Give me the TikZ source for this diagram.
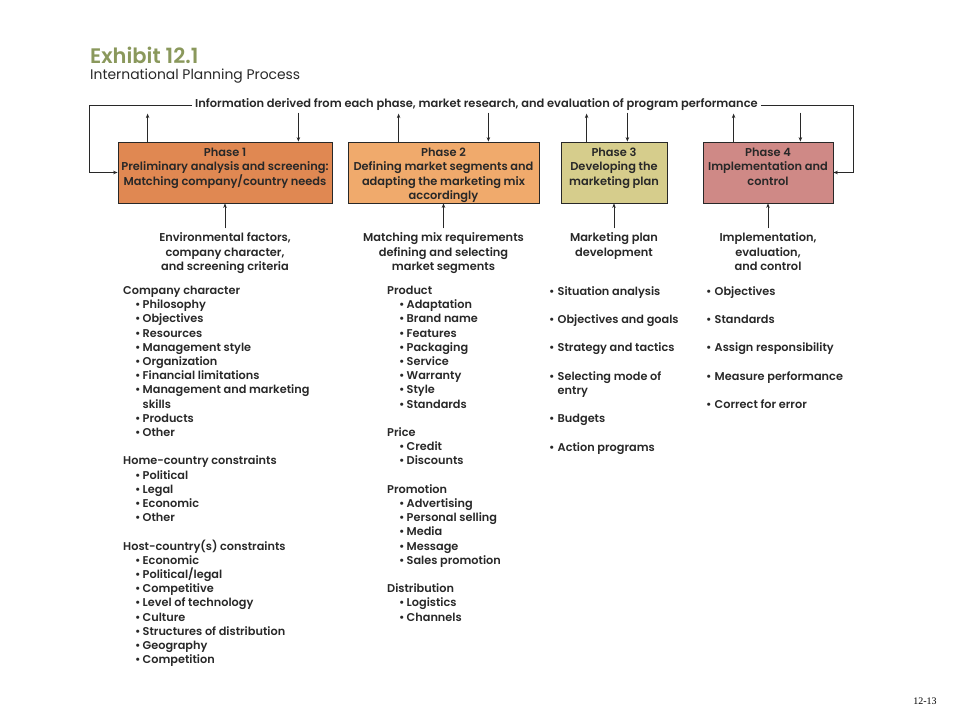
\documentclass[tikz,border=0pt]{standalone}
\usepackage{fontspec}
\setmainfont{Poppins}[BoldFont={Poppins SemiBold}]
\newfontfamily\pagefont{Liberation Serif}
\usetikzlibrary{positioning,arrows.meta}

\definecolor{exhgreen}{RGB}{138,152,92}
\definecolor{inkgray}{RGB}{40,40,40}
\definecolor{phaseone}{RGB}{224,136,82}
\definecolor{phasetwo}{RGB}{240,170,108}
\definecolor{phasethree}{RGB}{214,205,140}
\definecolor{phasefour}{RGB}{207,137,134}

\newcommand{\itm}{\hspace*{12pt}\makebox[7.5pt][l]{\textbullet}}
\newcommand{\bul}{\makebox[8.5pt][l]{\textbullet}}

\tikzset{
  phase/.style     = {draw=inkgray, line width=0.8pt, minimum height=61, inner sep=0},
  phasetext/.style = {align=center, text=inkgray, inner sep=0,
                      font=\bfseries\fontsize{11.4}{14.5}\selectfont},
  feed/.style      = {draw=inkgray, line width=0.7pt, -{Stealth[length=4.5pt,width=3.5pt]}},
  input/.style     = {align=center, text=inkgray, inner xsep=0, inner ysep=4pt,
                      font=\bfseries\fontsize{11.4}{14.5}\selectfont},
  list/.style      = {align=left, anchor=north west, text=inkgray, inner sep=0,
                      font=\bfseries\fontsize{11.3}{14.2}\selectfont}
}

\begin{document}
\begin{tikzpicture}[x=1pt, y=1pt]
    \useasboundingbox (0,0) rectangle (960,-720);

    % title
    \node [anchor=base west, inner sep=0, text=exhgreen,
           font=\bfseries\fontsize{21}{23}\selectfont]      (exh)  at (90,-63)  {Exhibit 12.1};
    \node [anchor=base west, inner sep=0, text=inkgray,
           font=\fontsize{13.9}{16}\selectfont]              (sub)  at (90,-79)  {International Planning Process};

    % phases
    \node [phase, fill=phaseone,   minimum width=214]       (p1)   at (225,-172.5)   {};
    \node [phase, fill=phasetwo,   minimum width=191]       (p2)   at (443.5,-172.5) {};
    \node [phase, fill=phasethree, minimum width=106]       (p3)   at (614,-172.5)   {};
    \node [phase, fill=phasefour,  minimum width=130]       (p4)   at (768,-172.5)   {};
    \node [phasetext, below=6pt of p1.north]                (p1t)  {Phase 1\\Preliminary analysis and screening:\\Matching company/country needs};
    \node [phasetext, below=6pt of p2.north]                (p2t)  {Phase 2\\Defining market segments and\\adapting the marketing mix\\accordingly};
    \node [phasetext, below=6pt of p3.north]                (p3t)  {Phase 3\\Developing the\\marketing plan};
    \node [phasetext, below=6pt of p4.north]                (p4t)  {Phase 4\\Implementation and\\control};

    % feedback line
    \node [inner xsep=3pt, inner ysep=0, text=inkgray,
           font=\bfseries\fontsize{11.45}{12}\selectfont]    (info) at (476.5,-105) {Information derived from each phase, market research, and evaluation of program performance};
    \coordinate (lt) at (89,-105);
    \coordinate (rt) at (853,-105);
    \draw [feed] (info.west) -- (lt) |- (p1.west);
    \draw [feed] (info.east) -- (rt) |- (p4.east);

    \draw [feed] ([xshift=30pt]p1.north west) -- ++(0,28);
    \draw [feed] ([xshift=-34pt,yshift=29pt]p1.north east) -- ([xshift=-34pt]p1.north east);
    \draw [feed] ([xshift=51pt]p2.north west) -- ++(0,28);
    \draw [feed] ([xshift=-51pt,yshift=29pt]p2.north east) -- ([xshift=-51pt]p2.north east);
    \draw [feed] ([xshift=26pt]p3.north west) -- ++(0,28);
    \draw [feed] ([xshift=-40pt,yshift=29pt]p3.north east) -- ([xshift=-40pt]p3.north east);
    \draw [feed] ([xshift=31pt]p4.north west) -- ++(0,28);
    \draw [feed] ([xshift=-33pt,yshift=29pt]p4.north east) -- ([xshift=-33pt]p4.north east);

    % inputs
    \node [input, below=25pt of p1]                         (in1)  {Environmental factors,\\company character,\\and screening criteria};
    \node [input, below=25pt of p2]                         (in2)  {Matching mix requirements\\defining and selecting\\market segments};
    \node [input, below=25pt of p3]                         (in3)  {Marketing plan\\development};
    \node [input, below=25pt of p4]                         (in4)  {Implementation,\\evaluation,\\and control};
    \draw [feed] (in1) -- (p1);
    \draw [feed] (in2) -- (p2);
    \draw [feed] (in3) -- (p3);
    \draw [feed] (in4) -- (p4);

    % lists
    \node [list] (l1) at (123,-286) {Company character\\
        \itm Philosophy\\ \itm Objectives\\ \itm Resources\\ \itm Management style\\
        \itm Organization\\ \itm Financial limitations\\ \itm Management and marketing\\
        \hspace*{19.5pt}skills\\ \itm Products\\ \itm Other\\[14.2pt]
        Home-country constraints\\
        \itm Political\\ \itm Legal\\ \itm Economic\\ \itm Other\\[14.2pt]
        Host-country(s) constraints\\
        \itm Economic\\ \itm Political/legal\\ \itm Competitive\\ \itm Level of technology\\
        \itm Culture\\ \itm Structures of distribution\\ \itm Geography\\ \itm Competition};
    \node [list] (l2) at (387,-286) {Product\\
        \itm Adaptation\\ \itm Brand name\\ \itm Features\\ \itm Packaging\\
        \itm Service\\ \itm Warranty\\ \itm Style\\ \itm Standards\\[14.2pt]
        Price\\
        \itm Credit\\ \itm Discounts\\[14.2pt]
        Promotion\\
        \itm Advertising\\ \itm Personal selling\\ \itm Media\\ \itm Message\\ \itm Sales promotion\\[14.2pt]
        Distribution\\
        \itm Logistics\\ \itm Channels};
    \node [list] (l3) at (549,-286) {\bul Situation analysis\\[14.2pt]
        \bul Objectives and goals\\[14.2pt]
        \bul Strategy and tactics\\[14.2pt]
        \bul Selecting mode of\\ \hspace*{8.5pt}entry\\[14.2pt]
        \bul Budgets\\[14.2pt]
        \bul Action programs};
    \node [list] (l4) at (706,-286) {\bul Objectives\\[14.2pt]
        \bul Standards\\[14.2pt]
        \bul Assign responsibility\\[14.2pt]
        \bul Measure performance\\[14.2pt]
        \bul Correct for error};

    \node [font=\pagefont\fontsize{10}{12}\selectfont, inner sep=0] (pg) at (925,-701) {12-13};
\end{tikzpicture}
\end{document}
